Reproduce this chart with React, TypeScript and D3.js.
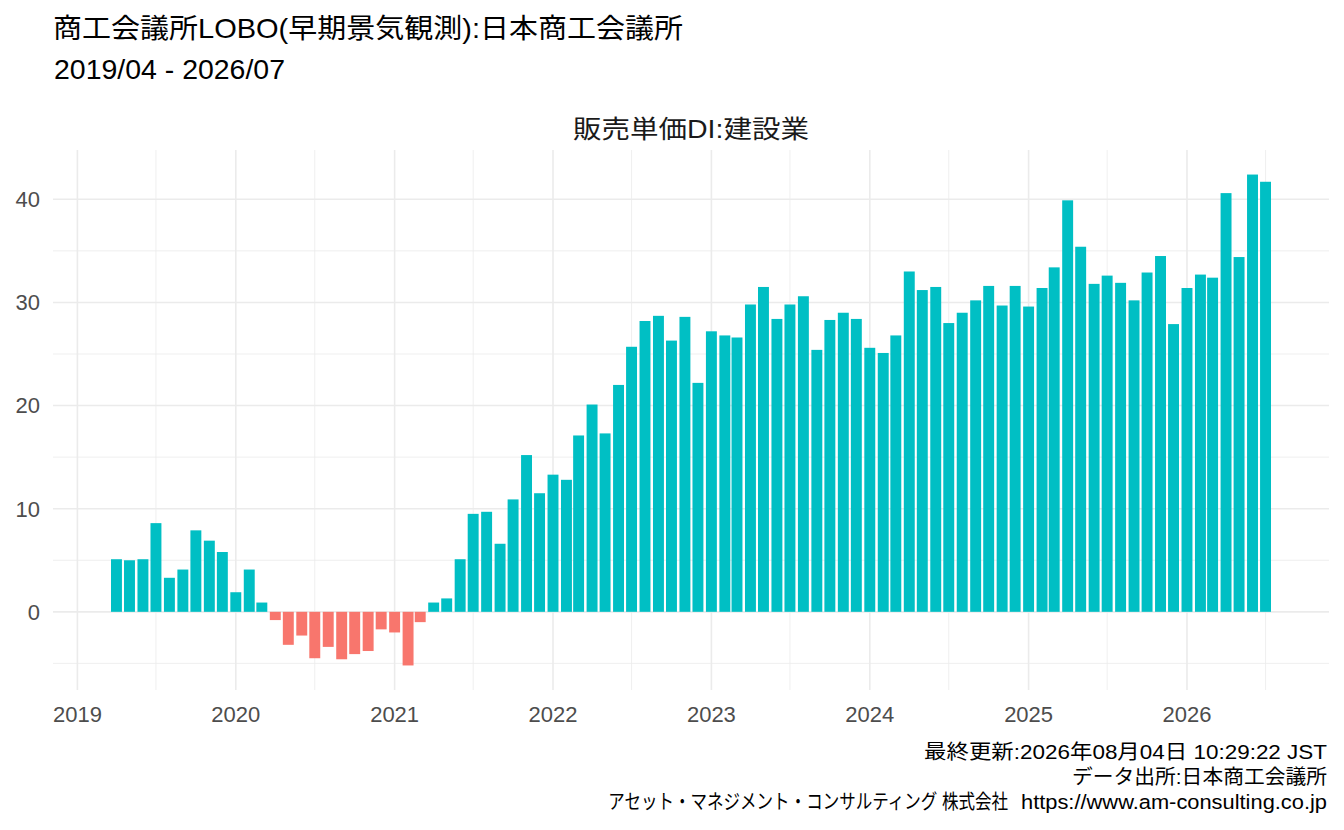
import React, { useEffect, useRef } from 'react';
import * as d3 from 'd3';

// Text
const titleText = '商工会議所LOBO(早期景気観測):日本商工会議所';
const subtitleText = '2019/04 - 2026/07';
const panelTitle = '販売単価DI:建設業';
const captionLines = [
  '最終更新:2026年08月04日 10:29:22 JST',
  'データ出所:日本商工会議所',
];
const creditName = 'アセット・マネジメント・コンサルティング 株式会社';
const creditUrl = 'https://www.am-consulting.co.jp';

// Monthly DI values, first month is 2019/04
const startYear = 2019;
const startMonthIndex = 3; // April
const values2019 = [5.1, 5.0, 5.1, 8.6, 3.3, 4.1, 7.9, 6.9, 5.8];
const values2020 = [1.9, 4.1, 0.9, -0.8, -3.2, -2.3, -4.5, -3.4, -4.6, -4.1, -3.8, -1.7];
const values2021 = [-2.0, -5.2, -1.0, 0.9, 1.3, 5.1, 9.5, 9.7, 6.6, 10.9, 15.2, 11.5];
const values2022 = [13.3, 12.8, 17.1, 20.1, 17.3, 22.0, 25.7, 28.2, 28.7, 26.3, 28.6, 22.2];
const values2023 = [27.2, 26.8, 26.6, 29.8, 31.5, 28.4, 29.8, 30.6, 25.4, 28.3, 29.0, 28.4];
const values2024 = [25.6, 25.1, 26.8, 33.0, 31.2, 31.5, 28.0, 29.0, 30.2, 31.6, 29.7, 31.6];
const values2025 = [29.6, 31.4, 33.4, 39.9, 35.4, 31.8, 32.6, 31.9, 30.2, 32.9, 34.5, 27.9];
const values2026 = [31.4, 32.7, 32.4, 40.6, 34.4, 42.4, 41.7];

const yearTicks = [2019, 2020, 2021, 2022, 2023, 2024, 2025, 2026];
const yTicks = [0, 10, 20, 30, 40];
const yMinorTicks = [-5, 5, 15, 25, 35];

interface Row {
  date: Date;
  value: number;
}

const allValues = [
  ...values2019, ...values2020, ...values2021, ...values2022,
  ...values2023, ...values2024, ...values2025, ...values2026,
];

const rows: Row[] = allValues.map((v, i) => ({
  date: new Date(Date.UTC(startYear, startMonthIndex + i, 1)),
  value: v,
}));

const W = 1344;
const H = 830;
const FONT = '"Liberation Sans", Arial, "Noto Sans CJK JP", sans-serif';

const App: React.FC = () => {
  const svgRef = useRef<SVGSVGElement>(null);

  useEffect(() => {
    if (!svgRef.current) return;
    const svg = d3.select(svgRef.current);
    svg.selectAll('*').remove();

    const panel = { left: 53, right: 1329, top: 150, bottom: 690 };
    const DAY = 86400000;

    // bar width like ggplot: 0.9 of the smallest gap
    const barWidth = 0.9 * 28 * DAY;
    const t0 = rows[0].date.getTime() - barWidth / 2;
    const t1 = rows[rows.length - 1].date.getTime() + barWidth / 2;
    const tPad = (t1 - t0) * 0.05;

    const x = d3.scaleUtc()
      .domain([new Date(t0 - tPad), new Date(t1 + tPad)])
      .range([panel.left, panel.right]);

    const yLo = Math.min(0, d3.min(rows, d => d.value)!);
    const yHi = Math.max(0, d3.max(rows, d => d.value)!);
    const yPad = (yHi - yLo) * 0.05;
    const y = d3.scaleLinear()
      .domain([yLo - yPad, yHi + yPad])
      .range([panel.bottom, panel.top]);

    const grid = svg.append('g');
    const gridColor = '#EBEBEB';

    // minor vertical lines at mid-year
    const [d0, d1] = x.domain();
    const midYears = d3.range(startYear - 1, 2027)
      .map(yr => new Date(Date.UTC(yr, 6, 1)))
      .filter(d => d >= d0 && d <= d1);
    grid.selectAll('.vminor')
      .data(midYears)
      .enter()
      .append('line')
      .attr('x1', d => x(d)).attr('x2', d => x(d))
      .attr('y1', panel.top).attr('y2', panel.bottom)
      .style('stroke', gridColor)
      .style('stroke-width', 0.8);

    grid.selectAll('.hminor')
      .data(yMinorTicks)
      .enter()
      .append('line')
      .attr('x1', panel.left).attr('x2', panel.right)
      .attr('y1', d => y(d)).attr('y2', d => y(d))
      .style('stroke', gridColor)
      .style('stroke-width', 0.8);

    grid.selectAll('.vmajor')
      .data(yearTicks)
      .enter()
      .append('line')
      .attr('x1', d => x(new Date(Date.UTC(d, 0, 1))))
      .attr('x2', d => x(new Date(Date.UTC(d, 0, 1))))
      .attr('y1', panel.top).attr('y2', panel.bottom)
      .style('stroke', gridColor)
      .style('stroke-width', 1.6);

    grid.selectAll('.hmajor')
      .data(yTicks)
      .enter()
      .append('line')
      .attr('x1', panel.left).attr('x2', panel.right)
      .attr('y1', d => y(d)).attr('y2', d => y(d))
      .style('stroke', gridColor)
      .style('stroke-width', 1.6);

    // Bars
    svg.append('g')
      .selectAll('rect')
      .data(rows)
      .enter()
      .append('rect')
      .attr('x', d => x(new Date(d.date.getTime() - barWidth / 2)))
      .attr('width', d => x(new Date(d.date.getTime() + barWidth / 2)) - x(new Date(d.date.getTime() - barWidth / 2)))
      .attr('y', d => y(Math.max(0, d.value)))
      .attr('height', d => Math.abs(y(d.value) - y(0)))
      .style('fill', d => (d.value >= 0 ? '#00BFC4' : '#F8766D'));

    // Axis labels
    svg.append('g')
      .selectAll('text')
      .data(yTicks)
      .enter()
      .append('text')
      .attr('x', 40)
      .attr('y', d => y(d))
      .attr('dy', '0.36em')
      .style('text-anchor', 'end')
      .style('font-family', FONT)
      .style('font-size', '22px')
      .style('fill', '#4D4D4D')
      .text(d => d);

    svg.append('g')
      .selectAll('text')
      .data(yearTicks)
      .enter()
      .append('text')
      .attr('x', d => x(new Date(Date.UTC(d, 0, 1))))
      .attr('y', 722)
      .style('text-anchor', 'middle')
      .style('font-family', FONT)
      .style('font-size', '22px')
      .style('fill', '#4D4D4D')
      .text(d => d);

    // Titles (text widths fitted to the original rendering)
    svg.append('text')
      .attr('x', 53).attr('y', 38)
      .attr('textLength', 630)
      .attr('lengthAdjust', 'spacingAndGlyphs')
      .style('font-family', FONT)
      .style('font-size', '27.5px')
      .style('fill', '#000')
      .text(titleText);

    svg.append('text')
      .attr('x', 54).attr('y', 79)
      .attr('textLength', 231)
      .attr('lengthAdjust', 'spacingAndGlyphs')
      .style('font-family', FONT)
      .style('font-size', '27.5px')
      .style('fill', '#000')
      .text(subtitleText);

    svg.append('text')
      .attr('x', (panel.left + panel.right) / 2).attr('y', 138)
      .attr('textLength', 236)
      .attr('lengthAdjust', 'spacingAndGlyphs')
      .style('text-anchor', 'middle')
      .style('font-family', FONT)
      .style('font-size', '25px')
      .style('fill', '#1A1A1A')
      .text(panelTitle);

    // Caption
    const captionWidths = [403, 255];
    svg.append('g')
      .selectAll('text')
      .data(captionLines)
      .enter()
      .append('text')
      .attr('x', 1327)
      .attr('y', (d, i) => 759 + i * 25)
      .attr('textLength', (d, i) => captionWidths[i])
      .attr('lengthAdjust', 'spacingAndGlyphs')
      .style('text-anchor', 'end')
      .style('font-family', FONT)
      .style('font-size', '20.5px')
      .style('fill', '#000')
      .text(d => d);

    // katakana in the original are narrow, so squeeze this part horizontally
    const name = svg.append('text')
      .attr('x', 0).attr('y', 0)
      .style('text-anchor', 'end')
      .style('font-family', FONT)
      .style('font-size', '20.5px')
      .style('fill', '#000')
      .text(creditName);
    const nameLen = (name.node() as SVGTextElement).getComputedTextLength() || 400;
    name.attr('transform', `translate(1008,809) scale(${400 / nameLen},1)`);

    svg.append('text')
      .attr('x', 1327).attr('y', 809)
      .attr('textLength', 306)
      .attr('lengthAdjust', 'spacingAndGlyphs')
      .style('text-anchor', 'end')
      .style('font-family', '"Liberation Sans", Arial, sans-serif')
      .style('font-size', '20.5px')
      .style('fill', '#000')
      .text(creditUrl);
  }, []);

  return (
    <div style={{ position: 'absolute', left: 0, top: 0, width: W, height: H, background: '#fff' }}>
      <svg ref={svgRef} width={W} height={H} />
    </div>
  );
};

export default App;
